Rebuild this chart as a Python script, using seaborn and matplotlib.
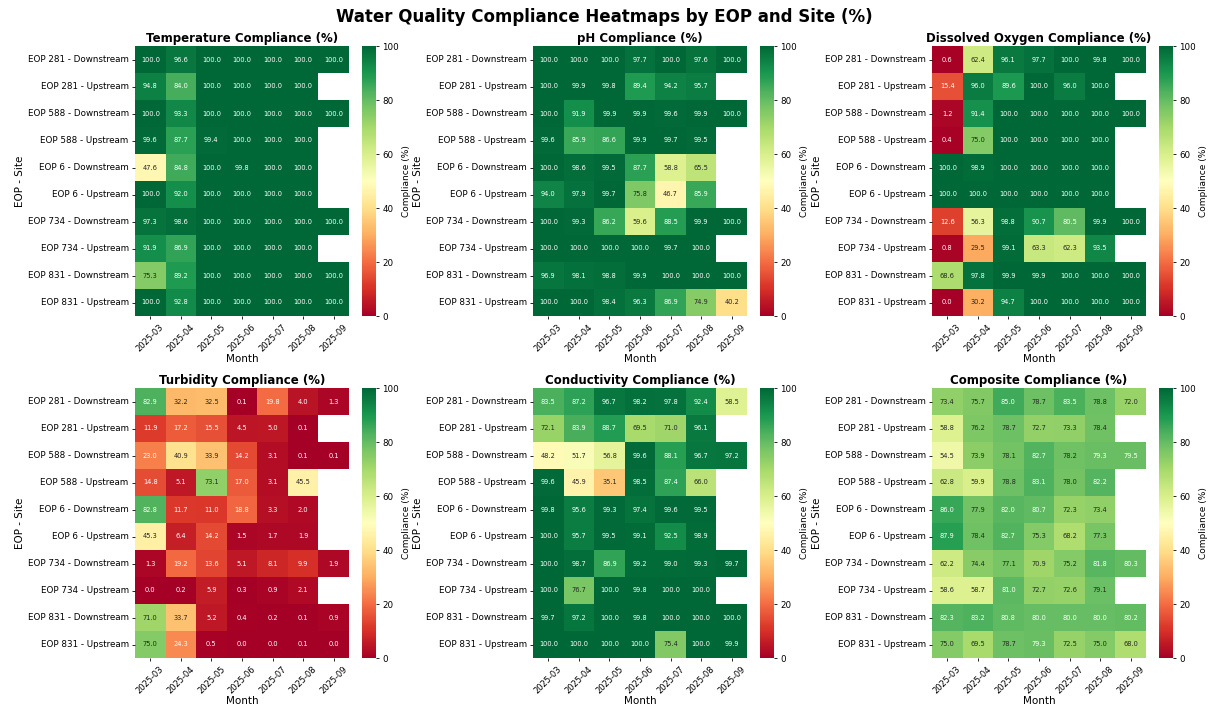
import numpy as np
import pandas as pd
import matplotlib
matplotlib.use("Agg")
import matplotlib.pyplot as plt
import seaborn as sns

months = ["2025-03", "2025-04", "2025-05", "2025-06", "2025-07", "2025-08", "2025-09"]
sites = ["EOP 281 - Downstream", "EOP 281 - Upstream", "EOP 588 - Downstream", "EOP 588 - Upstream",
         "EOP 6 - Downstream", "EOP 6 - Upstream", "EOP 734 - Downstream", "EOP 734 - Upstream",
         "EOP 831 - Downstream", "EOP 831 - Upstream"]
N = np.nan

temperature = [
    [100.0, 96.6, 100.0, 100.0, 100.0, 100.0, 100.0],
    [94.8, 84.0, 100.0, 100.0, 100.0, 100.0, N],
    [100.0, 93.3, 100.0, 100.0, 100.0, 100.0, 100.0],
    [99.6, 87.7, 99.4, 100.0, 100.0, 100.0, N],
    [47.6, 84.8, 100.0, 99.8, 100.0, 100.0, N],
    [100.0, 92.0, 100.0, 100.0, 100.0, 100.0, N],
    [97.3, 98.6, 100.0, 100.0, 100.0, 100.0, 100.0],
    [91.9, 86.9, 100.0, 100.0, 100.0, 100.0, N],
    [75.3, 89.2, 100.0, 100.0, 100.0, 100.0, 100.0],
    [100.0, 92.8, 100.0, 100.0, 100.0, 100.0, 100.0],
]
ph = [
    [100.0, 100.0, 100.0, 97.7, 100.0, 97.6, 100.0],
    [100.0, 99.9, 99.8, 89.4, 94.2, 95.7, N],
    [100.0, 91.9, 99.9, 99.9, 99.6, 99.9, 100.0],
    [99.6, 85.9, 86.6, 99.9, 99.7, 99.5, N],
    [100.0, 98.6, 99.5, 87.7, 58.8, 65.5, N],
    [94.0, 97.9, 99.7, 75.8, 46.7, 85.9, N],
    [100.0, 99.3, 86.2, 59.6, 88.5, 99.9, 100.0],
    [100.0, 100.0, 100.0, 100.0, 99.7, 100.0, N],
    [96.9, 98.1, 98.8, 99.9, 100.0, 100.0, 100.0],
    [100.0, 100.0, 98.4, 96.3, 86.9, 74.9, 40.2],
]
dissolved_oxygen = [
    [0.6, 62.4, 96.1, 97.7, 100.0, 99.8, 100.0],
    [15.4, 96.0, 89.6, 100.0, 96.0, 100.0, N],
    [1.2, 91.4, 100.0, 100.0, 100.0, 100.0, 100.0],
    [0.4, 75.0, 100.0, 100.0, 100.0, 100.0, N],
    [100.0, 98.9, 100.0, 100.0, 100.0, 100.0, N],
    [100.0, 100.0, 100.0, 100.0, 100.0, 100.0, N],
    [12.6, 56.3, 98.8, 90.7, 80.5, 99.9, 100.0],
    [0.8, 29.5, 99.1, 63.3, 62.3, 93.5, N],
    [68.6, 97.8, 99.9, 99.9, 100.0, 100.0, 100.0],
    [0.0, 30.2, 94.7, 100.0, 100.0, 100.0, 100.0],
]
turbidity = [
    [82.9, 32.2, 32.5, 0.1, 19.8, 4.0, 1.3],
    [11.9, 17.2, 15.5, 4.5, 5.0, 0.1, N],
    [23.0, 40.9, 33.9, 14.2, 3.1, 0.1, 0.1],
    [14.8, 5.1, 73.1, 17.0, 3.1, 45.5, N],
    [82.8, 11.7, 11.0, 18.8, 3.3, 2.0, N],
    [45.3, 6.4, 14.2, 1.5, 1.7, 1.9, N],
    [1.3, 19.2, 13.6, 5.1, 8.1, 9.9, 1.9],
    [0.0, 0.2, 5.9, 0.3, 0.9, 2.1, N],
    [71.0, 33.7, 5.2, 0.4, 0.2, 0.1, 0.9],
    [75.0, 24.3, 0.5, 0.0, 0.0, 0.1, 0.0],
]
conductivity = [
    [83.5, 87.2, 96.7, 98.2, 97.8, 92.4, 58.5],
    [72.1, 83.9, 88.7, 69.5, 71.0, 96.1, N],
    [48.2, 51.7, 56.8, 99.6, 88.1, 96.7, 97.2],
    [99.6, 45.9, 35.1, 98.5, 87.4, 66.0, N],
    [99.8, 95.6, 99.3, 97.4, 99.6, 99.5, N],
    [100.0, 95.7, 99.5, 99.1, 92.5, 98.9, N],
    [100.0, 98.7, 86.9, 99.2, 99.0, 99.3, 99.7],
    [100.0, 76.7, 100.0, 99.8, 100.0, 100.0, N],
    [99.7, 97.2, 100.0, 99.8, 100.0, 100.0, 100.0],
    [100.0, 100.0, 100.0, 100.0, 75.4, 100.0, 99.9],
]
composite = [
    [73.4, 75.7, 85.0, 78.7, 83.5, 78.8, 72.0],
    [58.8, 76.2, 78.7, 72.7, 73.3, 78.4, N],
    [54.5, 73.9, 78.1, 82.7, 78.2, 79.3, 79.5],
    [62.8, 59.9, 78.8, 83.1, 78.0, 82.2, N],
    [86.0, 77.9, 82.0, 80.7, 72.3, 73.4, N],
    [87.9, 78.4, 82.7, 75.3, 68.2, 77.3, N],
    [62.2, 74.4, 77.1, 70.9, 75.2, 81.8, 80.3],
    [58.6, 58.7, 81.0, 72.7, 72.6, 79.1, N],
    [82.3, 83.2, 80.8, 80.0, 80.0, 80.0, 80.2],
    [75.0, 69.5, 78.7, 79.3, 72.5, 75.0, 68.0],
]

titles = ["Temperature Compliance (%)", "pH Compliance (%)", "Dissolved Oxygen Compliance (%)",
          "Turbidity Compliance (%)", "Conductivity Compliance (%)", "Composite Compliance (%)"]
datasets = [temperature, ph, dissolved_oxygen, turbidity, conductivity, composite]

W, H = 1208, 708
fig = plt.figure(figsize=(W / 100, H / 100), dpi=100)

col_lefts = [135, 533, 932]
row_tops = [46, 388]
hm_w, hm_h = 214, 270
cb_gap, cb_w = 13, 14

for i, (title, data) in enumerate(zip(titles, datasets)):
    r, c = divmod(i, 3)
    left = col_lefts[c]
    top = row_tops[r]
    ax = fig.add_axes([left / W, 1 - (top + hm_h) / H, hm_w / W, hm_h / H])
    cax = fig.add_axes([(left + hm_w + cb_gap) / W, 1 - (top + hm_h) / H, cb_w / W, hm_h / H])
    df = pd.DataFrame(data, index=sites, columns=months)
    sns.heatmap(df, ax=ax, cbar_ax=cax, cmap="RdYlGn", vmin=0, vmax=100,
                annot=True, fmt=".1f", annot_kws={"size": 4.8})
    ax.set_title(title, fontsize=8.5, fontweight="bold", pad=3)
    ax.set_xlabel("Month", fontsize=7.5, labelpad=1)
    ax.set_ylabel("EOP - Site", fontsize=7.5, labelpad=2)
    ax.set_xticklabels(months, rotation=45, fontsize=6)
    ax.set_yticklabels(sites, rotation=0, fontsize=6.3)
    ax.tick_params(length=2.5, width=0.6, pad=2)
    cax.set_yticks([0, 20, 40, 60, 80, 100])
    cax.tick_params(labelsize=6.3, length=2.5, width=0.6, pad=2)
    cax.set_ylabel("Compliance (%)", fontsize=6.5, labelpad=2)

fig.suptitle("Water Quality Compliance Heatmaps by EOP and Site (%)", fontsize=12,
             fontweight="bold", y=1 - 17 / H, va="center")

fig.savefig("out.png", dpi=100)
